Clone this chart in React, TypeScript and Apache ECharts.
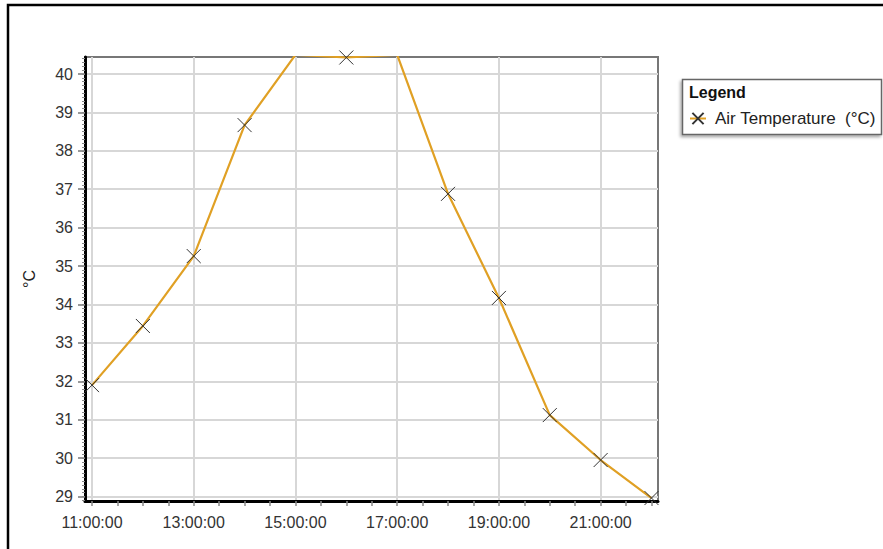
import React, { useEffect, useRef } from "react";
import * as echarts from "echarts";

// Hourly readings
const sampleTimes = [
  "11:00:00", "12:00:00", "13:00:00", "14:00:00", "15:00:00", "16:00:00",
  "17:00:00", "18:00:00", "19:00:00", "20:00:00", "21:00:00", "22:00:00",
];
const airTemperature = [31.9, 33.44, 35.26, 38.67, 40.5, 40.43, 40.5, 36.88, 34.17, 31.12, 29.95, 28.96];

// Axis labelling
const xTickLabels = ["11:00:00", "13:00:00", "15:00:00", "17:00:00", "19:00:00", "21:00:00"];
const yTickLabels = [29, 30, 31, 32, 33, 34, 35, 36, 37, 38, 39, 40];
const seriesName = "Air Temperature  (°C)";
const yAxisTitle = "°C";
const legendTitle = "Legend";

const FONT = "'Liberation Sans', Arial, sans-serif";

const toHours = (t: string) => {
  const [h, m, s] = t.split(":").map(Number);
  return h + m / 60 + s / 3600;
};
const fmtHour = (v: number) => {
  const h = Math.floor(v);
  const m = Math.round((v - h) * 60);
  return `${String(h).padStart(2, "0")}:${String(m).padStart(2, "0")}:00`;
};

export default function App() {
  const ref = useRef<HTMLDivElement>(null);

  useEffect(() => {
    if (!ref.current) return;
    const chart = echarts.init(ref.current, null, { renderer: "svg" });

    const xMin = 10.862;
    const xMax = 22.128;
    const yMin = 28.883;
    const yMax = 40.443;

    const labelHours = xTickLabels.map(toHours);
    // half-hour tick marks along the time axis
    const halfHourTicks: number[] = [];
    for (let h = Math.ceil(xMin * 2) / 2; h <= xMax; h += 0.5) halfHourTicks.push(h);
    // tenth-degree ruler ticks along the value axis
    const tenthTicks: number[] = [];
    for (let i = Math.ceil(yMin * 10); i <= Math.floor(yMax * 10); i++) tenthTicks.push(i / 10);

    const data = sampleTimes.map((t, i) => [toHours(t), airTemperature[i]]);

    const labelStyle = { color: "#333", fontSize: 16, fontFamily: FONT };

    chart.setOption({
      animation: false,
      backgroundColor: "#fff",
      grid: {
        left: 85,
        top: 57,
        width: 573,
        height: 444,
        show: true,
        borderColor: "#777",
        borderWidth: 2,
        backgroundColor: "#fff",
      },
      xAxis: [
        {
          type: "value",
          min: xMin,
          max: xMax,
          position: "bottom",
          axisLine: { show: true, onZero: false, lineStyle: { color: "#000", width: 3 } },
          axisTick: { show: false, customValues: labelHours },
          axisLabel: {
            ...labelStyle,
            margin: 13,
            customValues: labelHours,
            formatter: (v: number) => fmtHour(v),
          },
          splitLine: { show: true, lineStyle: { color: "#d7d7d7", width: 2 } },
        },
        {
          type: "value",
          min: xMin,
          max: xMax,
          position: "bottom",
          axisLine: { show: false, onZero: false },
          axisTick: {
            show: true,
            inside: false,
            length: 5,
            customValues: halfHourTicks,
            lineStyle: { color: "#888", width: 1.5 },
          },
          axisLabel: { show: false },
          splitLine: { show: false },
        },
      ],
      yAxis: [
        {
          type: "value",
          min: yMin,
          max: yMax,
          position: "left",
          name: yAxisTitle,
          nameLocation: "middle",
          nameRotate: 90,
          nameGap: 48,
          nameTextStyle: { color: "#222", fontSize: 16, fontFamily: FONT },
          axisLine: { show: true, onZero: false, lineStyle: { color: "#000", width: 3 } },
          axisTick: {
            show: true,
            length: 7,
            customValues: yTickLabels,
            lineStyle: { color: "#777", width: 1.5 },
          },
          axisLabel: {
            ...labelStyle,
            margin: 12,
            customValues: yTickLabels,
            formatter: (v: number) => String(Math.round(v)),
          },
          splitLine: { show: true, lineStyle: { color: "#d7d7d7", width: 2 } },
        },
        {
          type: "value",
          min: yMin,
          max: yMax,
          position: "left",
          axisLine: { show: false, onZero: false },
          axisTick: {
            show: true,
            length: 3,
            customValues: tenthTicks,
            lineStyle: { color: "#888", width: 1 },
          },
          axisLabel: { show: false },
          splitLine: { show: false },
        },
      ],
      legend: {
        show: true,
        left: 689,
        top: 110,
        padding: 0,
        orient: "vertical",
        itemWidth: 16,
        itemHeight: 14,
        z: 10,
        textStyle: { color: "#222", fontSize: 17, fontFamily: FONT, padding: [0, 0, 0, 4] },
        data: [seriesName],
      },
      graphic: [
        {
          type: "rect",
          silent: true,
          z: 100,
          shape: { x: 8, y: 5, width: 1000, height: 1000 },
          style: { fill: "none", stroke: "#000", lineWidth: 2.5 },
        },
        {
          type: "rect",
          silent: true,
          z: 1,
          shape: { x: 682.5, y: 79.5, width: 199, height: 55 },
          style: {
            fill: "#fff",
            stroke: "#666",
            lineWidth: 1.5,
            shadowColor: "rgba(0,0,0,0.35)",
            shadowBlur: 3,
            shadowOffsetX: -1.5,
            shadowOffsetY: 2,
          },
        },
        {
          type: "text",
          silent: true,
          z: 2,
          x: 689,
          y: 92,
          style: {
            text: legendTitle,
            fill: "#111",
            font: `bold 16px ${FONT}`,
            verticalAlign: "middle",
          },
        },
      ],
      series: [
        {
          name: seriesName,
          type: "line",
          xAxisIndex: 0,
          yAxisIndex: 0,
          data,
          clip: true,
          symbol: "path://M0,0L10,10M10,0L0,10",
          symbolSize: 14,
          showAllSymbol: true,
          lineStyle: { color: "#e0a024", width: 2.2 },
          itemStyle: { color: "#333", borderColor: "#333", borderWidth: 1 },
          emphasis: { disabled: true },
          z: 5,
        },
      ],
    });

    return () => chart.dispose();
  }, []);

  return (
    <div
      ref={ref}
      style={{ position: "fixed", left: 0, top: 0, width: 883, height: 549, background: "#fff" }}
    />
  );
}
